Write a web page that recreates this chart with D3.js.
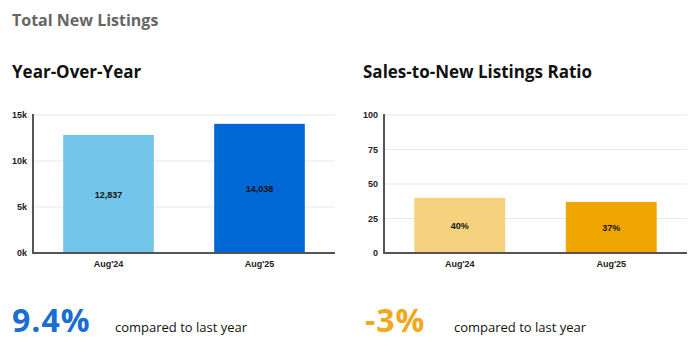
<!DOCTYPE html>
<html>
<head>
<meta charset="utf-8">
<script src="https://cdn.jsdelivr.net/npm/d3@7"></script>
<style>
  body { margin: 0; background: #fff; }
  .tick text { font-family: Arial, "Liberation Sans", sans-serif; font-weight: 700; font-size: 9px; fill: #222; }
</style>
</head>
<body>
<div id="chart"></div>
<script>
// Data
const periods = ["Aug'24", "Aug'25"];
const listings = [12837, 14038];
const listingLabels = ['12,837', '14,038'];
const listingTicks = [0, 5000, 10000, 15000];
const ratios = [40, 37];
const ratioLabels = ['40%', '37%'];
const ratioTicks = [0, 25, 50, 75, 100];
const changes = ['9.4%', '-3%'];

const W = 690, H = 353;
const svg = d3.select('#chart').append('svg')
  .attr('width', W).attr('height', H);

const headFont = '"Open Sans", "Noto Sans", sans-serif';

svg.append('text').attr('x', 12).attr('y', 26)
  .style('font-family', headFont).style('font-weight', 700).style('font-size', '16px')
  .attr('fill', '#666').text('Total New Listings');

function panel(opts) {
  const { x0, x1, title, values, labels, ticks, max, colors, fmt, change, changeColor, cmpX } = opts;
  const y0 = 115, y1 = 253;

  svg.append('text').attr('x', opts.titleX).attr('y', 78)
    .style('font-family', headFont).style('font-weight', 700).style('font-size', '17px')
    .attr('fill', '#111').text(title);

  const x = d3.scaleBand(periods, [x0, x1]).paddingInner(0.4).paddingOuter(0.2);
  const y = d3.scaleLinear([0, max], [y1, y0]);

  // gridlines
  svg.append('g')
    .selectAll('line')
    .data(ticks.slice(1))
    .join('line')
    .attr('x1', x0).attr('x2', x1)
    .attr('y1', (d) => y(d)).attr('y2', (d) => y(d))
    .attr('stroke', '#e8e8e8').attr('stroke-width', 1.2);

  svg.append('g')
    .selectAll('rect')
    .data(values)
    .join('rect')
    .attr('x', (d, i) => x(periods[i]))
    .attr('y', (d) => y(d))
    .attr('width', x.bandwidth())
    .attr('height', (d) => y(0) - y(d))
    .attr('fill', (d, i) => colors[i]);

  svg.append('g')
    .selectAll('text')
    .data(values)
    .join('text')
    .attr('x', (d, i) => x(periods[i]) + x.bandwidth() / 2)
    .attr('y', (d) => (y(d) + y(0)) / 2 + 4)
    .attr('text-anchor', 'middle')
    .style('font-family', 'Arial, "Liberation Sans", sans-serif')
    .style('font-weight', 700).style('font-size', '9px')
    .attr('fill', '#111')
    .text((d, i) => labels[i]);

  // axes
  const ya = svg.append('g')
    .attr('transform', `translate(${x0}, 0)`)
    .call(d3.axisLeft(y).tickValues(ticks).tickFormat(fmt).tickSize(0).tickPadding(6));
  ya.select('.domain').remove();

  const xa = svg.append('g')
    .attr('transform', `translate(0, ${y1})`)
    .call(d3.axisBottom(x).tickSize(0).tickPadding(8));
  xa.select('.domain').remove();

  svg.append('line').attr('x1', x0).attr('x2', x0).attr('y1', y0 - 1).attr('y2', y1 + 1)
    .attr('stroke', '#555').attr('stroke-width', 2);
  svg.append('line').attr('x1', x0 - 1).attr('x2', x1).attr('y1', y1).attr('y2', y1)
    .attr('stroke', '#555').attr('stroke-width', 2);

  // change summary
  svg.append('text').attr('x', opts.changeX).attr('y', 332)
    .style('font-family', headFont).style('font-weight', 700).style('font-size', '32px')
    .style('letter-spacing', '1px')
    .attr('fill', changeColor).text(change);
  svg.append('text').attr('x', cmpX).attr('y', 332)
    .style('font-family', headFont).style('font-size', '13px')
    .attr('fill', '#111').text('compared to last year');
}

panel({
  x0: 33, x1: 335, titleX: 12, changeX: 12, title: 'Year-Over-Year',
  values: listings, labels: listingLabels, ticks: listingTicks, max: 15000,
  colors: ['#72c5e8', '#0068d4'], fmt: (d) => d / 1000 + 'k',
  change: changes[0], changeColor: '#1a6dd1', cmpX: 115
});

panel({
  x0: 384, x1: 687, titleX: 363, changeX: 365, title: 'Sales-to-New Listings Ratio',
  values: ratios, labels: ratioLabels, ticks: ratioTicks, max: 100,
  colors: ['#f6d27e', '#f0a600'], fmt: (d) => d,
  change: changes[1], changeColor: '#f0a820', cmpX: 454
});
</script>
</body>
</html>
